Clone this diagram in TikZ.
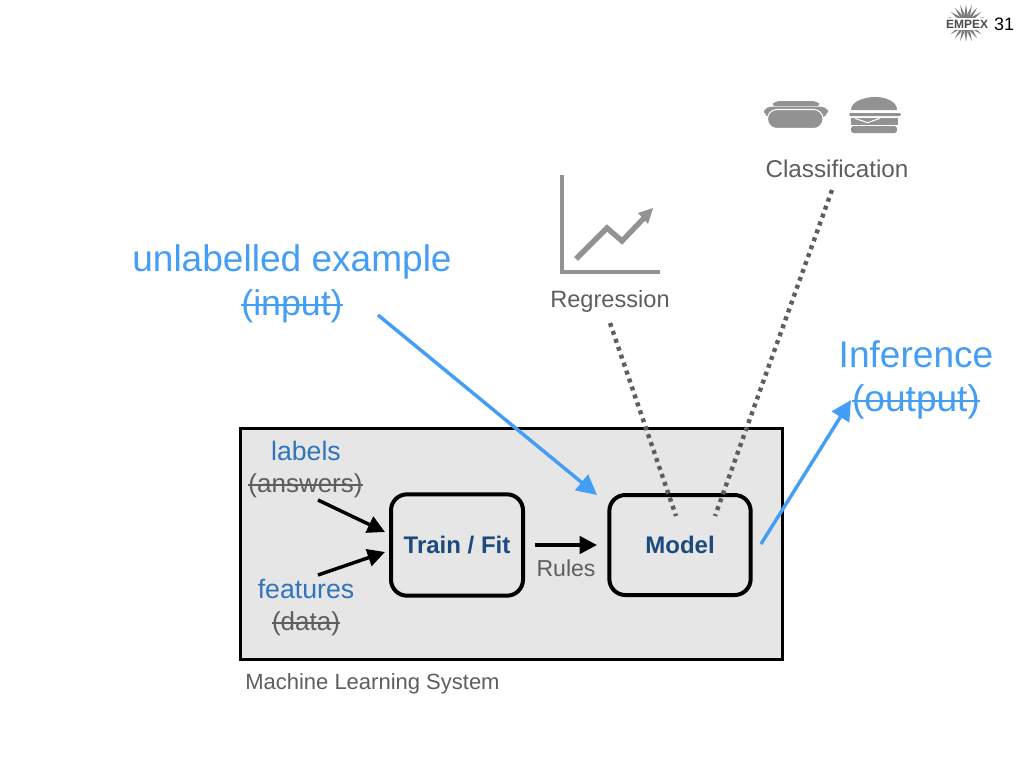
\documentclass[tikz,border=0pt]{standalone}
\usepackage{fontspec}
\setmainfont{Liberation Sans}
\usetikzlibrary{arrows.meta}
\definecolor{skyb}{HTML}{459EF5}
\definecolor{midb}{HTML}{2F74BC}
\definecolor{navyb}{HTML}{1C4A7E}
\definecolor{greyt}{HTML}{5E5E5E}
\definecolor{icon}{HTML}{929292}
\definecolor{panel}{HTML}{E6E6E6}
\newcommand{\strk}[1]{\leavevmode\sbox0{#1}\rlap{\usebox0}\rule[0.27em]{\wd0}{0.055em}}
\tikzset{
  x=0.75pt,y=-0.75pt,
  lbl/.style={inner sep=0pt,align=center,text=greyt},
  big/.style={inner sep=0pt,align=center,text=skyb,font=\fontsize{27.8}{34}\selectfont},
  mid/.style={inner sep=0pt,align=center,font=\fontsize{20}{25}\selectfont},
  boxn/.style={draw=black,line width=3pt,rounded corners=12pt,fill=panel,text=navyb,font=\fontsize{18}{20}\selectfont\bfseries,inner sep=0pt},
  blk/.style={draw=black,line width=2.6pt,-{Triangle[length=13pt,width=13pt]}},
  blu/.style={draw=skyb,line width=2.6pt,-{Triangle[length=15pt,width=15pt]}},
  dots/.style={draw=greyt,line width=3.3pt,dash pattern=on 3pt off 3.3pt},
}
\begin{document}
\begin{tikzpicture}
\useasboundingbox (0,0) rectangle (1024,768);
\fill[white] (0,0) rectangle (1024,768);

% panel
\node[draw=black,line width=2.6pt,fill=panel,inner sep=0pt,anchor=north west,minimum width=406.5pt,minimum height=173pt] (sys) at (239,427) {};
\node[lbl,anchor=west,font=\fontsize{16.5}{18}\selectfont] (syslbl) at (245,684) {Machine Learning System};

% boxes
\node[boxn,minimum width=99pt,minimum height=76pt] (train) at (457,545) {Train / Fit};
\node[boxn,minimum width=106pt,minimum height=75pt] (model) at (680,545) {Model};

% input labels
\node[mid,text=midb] (labels) at (306,451) {labels};
\node[mid,text=greyt,font=\fontsize{19.5}{25}\selectfont] (answers) at (305.5,486) {\strk{(answers)}};
\node[mid,text=midb] (features) at (306,589) {features};
\node[mid,text=greyt,font=\fontsize{19.5}{25}\selectfont] (data) at (306,624) {\strk{(data)}};
\coordinate (a1) at (318,500);
\coordinate (a1e) at (385,532);
\coordinate (a2) at (318,575);
\coordinate (a2e) at (385,552);
\draw[blk] (a1) -- (a1e);
\draw[blk] (a2) -- (a2e);

% rules
\coordinate (r1) at (535,545);
\coordinate (r2) at (597,545);
\draw[blk] (r1) -- (r2);
\node[lbl,font=\fontsize{17.3}{20}\selectfont] (rules) at (566,568) {Rules};

% big texts
\node[big] (unl) at (292,262) {unlabelled example};
\node[big,font=\fontsize{26.8}{34}\selectfont] (inp) at (292,306) {\strk{(input)}};
\node[big] (inf) at (916,354) {Inference};
\node[big] (out) at (916,402) {\strk{(output)}};

% blue arrows
\coordinate (b1) at (378,315);
\coordinate (b1e) at (597,495);
\draw[blu] (b1) -- (b1e);
\coordinate (b2) at (761,544);
\coordinate (b2e) at (851,400);
\draw[blu] (b2) -- (b2e);

% dotted
\coordinate (d1) at (610,323);
\coordinate (d1e) at (676,516);
\coordinate (d2) at (832,190);
\coordinate (d2e) at (715,516);
\draw[dots] (d1) -- (d1e);
\draw[dots] (d2) -- (d2e);

% regression
\node[lbl,font=\fontsize{17.7}{20}\selectfont] (reg) at (610,301) {Regression};
\draw[icon,line width=3.2pt] (562,175) -- (562,272) -- (660,272);
\draw[icon,line width=4pt] (576,259) -- (607,228) -- (622,241) -- (644,218);
\fill[icon] (653,208) -- (648,224) -- (638,213) -- cycle;

% classification
\node[lbl,font=\fontsize{18.2}{20}\selectfont] (cls) at (837,169) {Classification};
% hot dog
\fill[icon,rounded corners=3pt] (771,106) -- (775,101) -- (817,101) -- (821,106) -- cycle;
\fill[icon,rounded corners=3pt] (764,109) -- (770,106.5) -- (822,106.5) -- (828,109) -- (828,113) -- (823,118) -- (768,118) -- (764,113) -- cycle;
\fill[icon,draw=white,line width=0.8pt,rounded corners=7pt] (767.5,109.5) rectangle (823,128.5);
% burger
\fill[icon] (851,110) .. controls (851,101) and (865,97) .. (875,97) .. controls (885,97) and (897,101) .. (897,110) -- cycle;
\fill[icon,rounded corners=1pt] (849,113) rectangle (901,116);
\fill[icon] (851,117.5) rectangle (898,125);
\draw[white,line width=0.8pt] (855,118.3) -- (867.5,122.7) -- (880,118.3);
\fill[icon,rounded corners=2pt] (851,126) rectangle (897,133);

% logo
\foreach \a in {0,18,...,342}{\fill[icon!85!black,shift={(966,23)}] (\a-9:9) -- (\a:19) -- (\a+9:9) -- cycle;}
\fill[icon!85!black] (966,23) circle[radius=9];
\fill[white] (944,17.5) rectangle (992,30);
\node[inner sep=0pt,text=black!70,font=\fontsize{9}{10}\selectfont\bfseries] (logo) at (967,24) {EMPEX};
\node[inner sep=0pt,text=black,font=\fontsize{13.5}{15}\selectfont] (pg) at (1004,24) {31};
\end{tikzpicture}
\end{document}
